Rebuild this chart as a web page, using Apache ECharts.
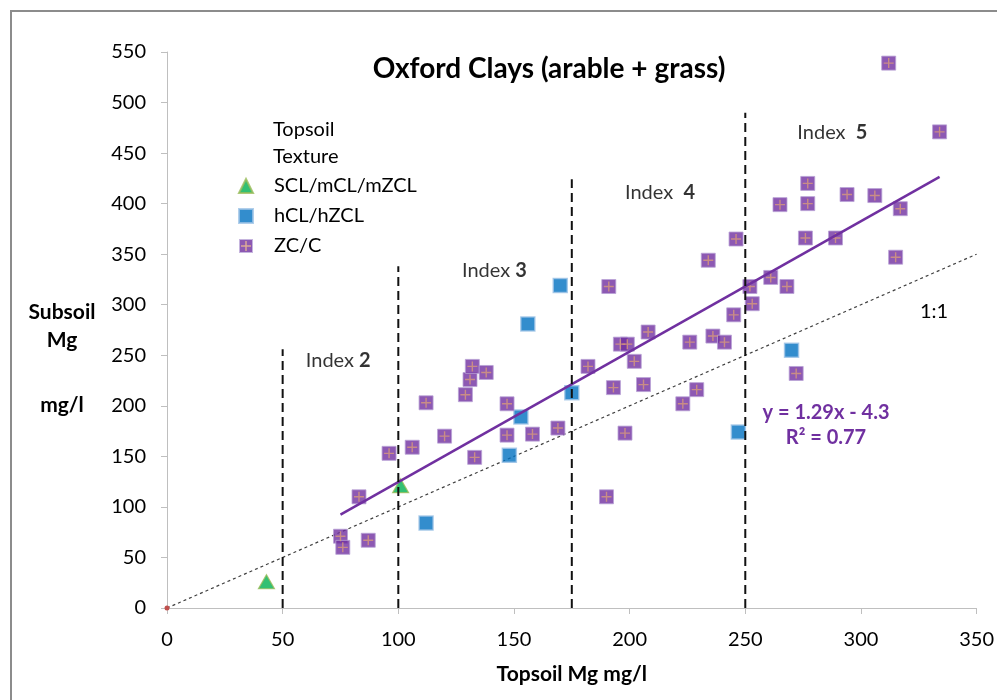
<!DOCTYPE html>
<html>
<head>
<meta charset="utf-8">
<title>Oxford Clays (arable + grass)</title>
<script src="https://cdn.jsdelivr.net/npm/echarts@6/dist/echarts.min.js"></script>
<style>
  html, body { margin: 0; padding: 0; background: #fff; }
  #chart { width: 997px; height: 700px; }
</style>
</head>
<body>
<div id="chart"></div>
<script>
// Topsoil vs subsoil magnesium (mg/l), grouped by topsoil texture
const sclPoints = [[43, 26], [101, 121]];
const hclPoints = [[112, 84], [148, 151], [153, 189], [156, 281], [170, 319], [175, 213], [247, 174], [270, 255]];
const zcPoints = [
  [75, 71], [76, 60], [87, 67], [83, 110], [96, 153], [106, 159], [112, 203], [120, 170],
  [129, 211], [131, 226], [132, 239], [138, 233], [133, 149], [147, 202], [147, 171], [158, 172],
  [169, 178], [191, 318], [190, 110], [182, 239], [193, 218], [196, 261], [199, 261], [198, 173],
  [202, 244], [208, 273], [206, 221], [223, 202], [226, 263], [229, 216], [234, 344], [236, 269],
  [241, 263], [245, 290], [246, 365], [252, 318], [253, 301], [261, 327], [265, 399], [268, 318],
  [272, 232], [276, 366], [277, 400], [277, 420], [289, 366], [294, 409], [306, 408], [315, 347],
  [312, 539], [334, 471], [317, 395]
];

// Linear fit shown on the chart: y = 1.29x - 4.3, over the ZC/C range
const fitSlope = 1.29;
const fitIntercept = -4.3;
const fitRange = [75, 334];

// Mg index boundaries (topsoil) and the height of each dashed divider
const indexBounds = [50, 100, 175, 250];
const indexTops = [256, 338, 424, 490];
const indexNames = ['2', '3', '4', '5'];
const indexPrefixes = ['Index ', 'Index ', 'Index  ', 'Index  '];
const indexLabelPos = [[60, 245], [127.5, 334], [198, 411], [272.5, 470]];

const oneToOne = [[0, 0], [350, 350]];

const xTicks = { min: 0, max: 350, interval: 50 };
const yTicks = { min: 0, max: 550, interval: 50 };

const FONT = 'Lato, "Open Sans", sans-serif';
const PURPLE = '#7030A0';
const FS = 20;

const plusPath = 'path://M4.3,0H5.7V10H4.3Z M0,4.3H10V5.7H0Z';
const zcIconSvg =
  '<svg xmlns="http://www.w3.org/2000/svg" width="14" height="14" viewBox="0 0 14 14">' +
  '<rect x="0.5" y="0.5" width="13" height="13" fill="#7030A0" stroke="#B9A3D6" stroke-width="1"/>' +
  '<rect x="6.3" y="2" width="1.4" height="10" fill="#D89A7A"/>' +
  '<rect x="2" y="6.3" width="10" height="1.4" fill="#D89A7A"/></svg>';
const zcIcon = 'image://data:image/svg+xml;utf8,' + encodeURIComponent(zcIconSvg);

const chart = echarts.init(document.getElementById('chart'), null, { renderer: 'canvas' });

const dividerSeries = indexBounds.map((x, i) => ({
  name: 'Index boundary ' + x,
  type: 'line',
  data: [[x, 0], [x, indexTops[i]]],
  symbol: 'none',
  silent: true,
  z: 4,
  lineStyle: { color: '#111', width: 2, type: [9, 5] }
}));

const option = {
  animation: false,
  backgroundColor: '#fff',
  title: {
    text: 'Oxford Clays (arable + grass)',
    left: 544,
    top: 50,
    textAlign: 'center',
    textStyle: { fontFamily: FONT, fontSize: 28, fontWeight: 'bold', color: '#000' }
  },
  grid: { left: 167, right: 18, top: 52, bottom: 92, containLabel: false },
  legend: {
    orient: 'vertical',
    left: 238,
    top: 176,
    padding: 0,
    itemWidth: 14,
    itemHeight: 14,
    itemGap: 10,
    selectedMode: false,
    textStyle: { fontFamily: FONT, fontSize: FS, color: '#000', lineHeight: 16, padding: [0, 0, 0, 16] },
    data: [
      { name: 'SCL/mCL/mZCL' },
      { name: 'hCL/hZCL' },
      { name: 'ZC/C', icon: zcIcon }
    ]
  },
  xAxis: {
    type: 'value',
    min: xTicks.min, max: xTicks.max, interval: xTicks.interval,
    name: 'Topsoil Mg mg/l',
    nameLocation: 'middle',
    nameGap: 56,
    nameTextStyle: { fontFamily: FONT, fontSize: 21, fontWeight: 'bold', color: '#000' },
    axisLine: { lineStyle: { color: '#BFBFBF', width: 1 } },
    axisTick: { show: true, length: 6, lineStyle: { color: '#BFBFBF' } },
    axisLabel: { fontFamily: FONT, fontSize: FS, color: '#000', margin: 22 },
    splitLine: { show: false }
  },
  yAxis: {
    type: 'value',
    min: yTicks.min, max: yTicks.max, interval: yTicks.interval,
    axisLine: { show: true, lineStyle: { color: '#BFBFBF', width: 1 } },
    axisTick: { show: true, length: 6, lineStyle: { color: '#BFBFBF' } },
    axisLabel: { fontFamily: FONT, fontSize: FS, color: '#000', margin: 21 },
    splitLine: { show: false }
  },
  graphic: [
    { type: 'rect', shape: { x: 11, y: 11, width: 1000, height: 700 }, style: { fill: 'none', stroke: '#8C8C8C', lineWidth: 2 }, silent: true },
    { type: 'text', x: 273, y: 130, style: { text: 'Topsoil', font: FS + 'px ' + FONT, fill: '#000', verticalAlign: 'middle' } },
    { type: 'text', x: 273, y: 157, style: { text: 'Texture', font: FS + 'px ' + FONT, fill: '#000', verticalAlign: 'middle' } },
    { type: 'text', x: 62, y: 312, style: { text: 'Subsoil', font: 'bold 21px ' + FONT, fill: '#000', align: 'center', verticalAlign: 'middle' } },
    { type: 'text', x: 62, y: 340, style: { text: 'Mg', font: 'bold 21px ' + FONT, fill: '#000', align: 'center', verticalAlign: 'middle' } },
    { type: 'text', x: 62, y: 405, style: { text: 'mg/l', font: 'bold 21px ' + FONT, fill: '#000', align: 'center', verticalAlign: 'middle' } },
    { type: 'text', x: 826, y: 413, style: { text: 'y = 1.29x - 4.3', font: 'bold ' + FS + 'px ' + FONT, fill: PURPLE, align: 'center', verticalAlign: 'middle' } },
    { type: 'text', x: 826, y: 438, style: { text: 'R\u00B2 = 0.77', font: 'bold ' + FS + 'px ' + FONT, fill: PURPLE, align: 'center', verticalAlign: 'middle' } },
    { type: 'text', x: 934, y: 312, style: { text: '1:1', font: FS + 'px ' + FONT, fill: '#000', align: 'center', verticalAlign: 'middle' } }
  ],
  series: [
    {
      name: '1:1',
      type: 'line',
      data: [
        { value: oneToOne[0], symbol: 'circle', symbolSize: 5, itemStyle: { color: '#C0504D' } },
        { value: oneToOne[1], symbol: 'none' }
      ],
      showSymbol: true,
      silent: true,
      z: 1,
      lineStyle: { color: '#404040', width: 1.2, type: [3, 3] }
    },
    {
      name: 'SCL/mCL/mZCL',
      type: 'scatter',
      data: sclPoints,
      symbol: 'triangle',
      symbolSize: [16, 14],
      z: 3,
      itemStyle: { color: '#00B050', borderColor: '#9BBB59', borderWidth: 1.2 }
    },
    {
      name: 'hCL/hZCL',
      type: 'scatter',
      data: hclPoints,
      symbol: 'rect',
      symbolSize: 14,
      z: 3,
      itemStyle: { color: '#0070C0', borderColor: '#9DC3E6', borderWidth: 1.5 }
    },
    {
      name: 'ZC/C',
      type: 'scatter',
      data: zcPoints,
      symbol: 'rect',
      symbolSize: 14,
      z: 3,
      itemStyle: { color: PURPLE, borderColor: '#B9A3D6', borderWidth: 1 }
    },
    {
      name: 'ZC/C cross',
      type: 'scatter',
      data: zcPoints,
      symbol: plusPath,
      symbolSize: 10,
      silent: true,
      z: 3,
      itemStyle: { color: '#D89A7A' }
    },
    {
      name: 'Linear fit',
      type: 'line',
      data: fitRange.map(x => [x, fitSlope * x + fitIntercept]),
      symbol: 'none',
      silent: true,
      z: 4,
      lineStyle: { color: PURPLE, width: 2.5 }
    },
    ...dividerSeries,
    {
      name: 'Index labels',
      type: 'scatter',
      data: indexLabelPos,
      symbolSize: 0,
      silent: true,
      z: 5,
      label: {
        show: true,
        position: 'right',
        distance: 0,
        formatter: p => '{a|' + indexPrefixes[p.dataIndex] + '}{b|' + indexNames[p.dataIndex] + '}',
        rich: {
          a: { fontFamily: FONT, fontSize: FS, color: '#000' },
          b: { fontFamily: FONT, fontSize: FS, fontWeight: 'bold', color: '#000' }
        }
      }
    }
  ]
};

chart.setOption(option);
</script>
</body>
</html>
